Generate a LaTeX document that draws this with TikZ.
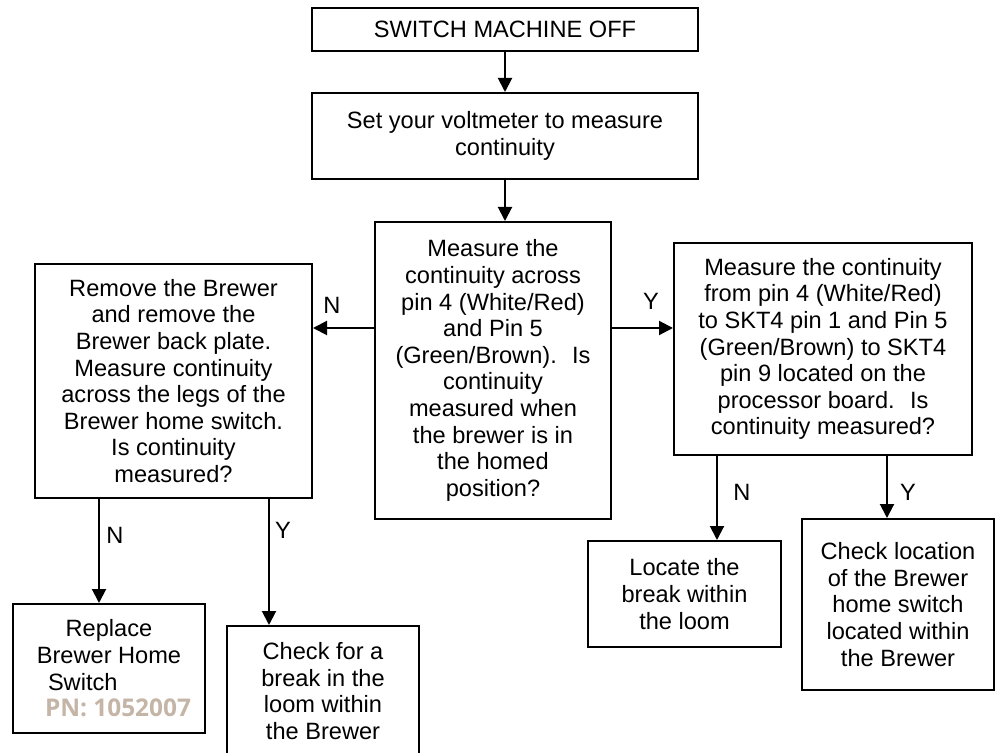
\documentclass[tikz,border=0pt]{standalone}
\usepackage{fontspec}
\setmainfont{Liberation Sans}
\newfontfamily\pnfont{Open Sans}
\usetikzlibrary{arrows.meta}
\definecolor{pntan}{RGB}{196,181,166}

\begin{document}
\begin{tikzpicture}[x=0.5pt,y=-0.5pt,line width=1pt,->,>={Triangle[length=7pt,width=7pt]}]
    \tikzstyle{stepbox}=[draw,-,align=center,inner sep=0pt,font=\fontsize{11.8}{13.3}\selectfont]
    \tikzstyle{answer}=[font=\fontsize{11.8}{13.3}\selectfont]
    \useasboundingbox (0,0) rectangle (995,753);

    % Draw the steps down the middle
    \node[stepbox, minimum width=193pt, minimum height=21.5pt] (off) at (505,29.5) {SWITCH MACHINE OFF};
    \node[stepbox, minimum width=193pt, minimum height=43pt] (volt) at (505,136) {Set your voltmeter to measure\\continuity};
    \node[stepbox, minimum width=118pt, minimum height=148.5pt] (cont) at (493,370.5)
        {Measure the\\continuity across\\pin 4 (White/Red)\\and Pin 5\\(Green/Brown).~ Is\\continuity\\measured when\\the brewer is in\\the homed\\position?};

    % Draw the two checks
    \node[stepbox, minimum width=138.5pt, minimum height=117pt] (brewer) at (173.5,381)
        {Remove the Brewer\\and remove the\\Brewer back plate.\\Measure continuity\\across the legs of the\\Brewer home switch.\\Is continuity\\measured?};
    \node[stepbox, minimum width=149pt, minimum height=106pt] (skt) at (823,349)
        {Measure the continuity\\from pin 4 (White/Red)\\to SKT4 pin 1 and Pin 5\\(Green/Brown) to SKT4\\pin 9 located on the\\processor board.~ Is\\continuity measured?};

    % Draw the end steps
    \node[stepbox, minimum width=96pt, minimum height=64.5pt] (replace) at (109,668.5)
        {Replace\\Brewer Home\\\makebox[61pt][l]{Switch}\\\makebox[64pt][l]{\pnfont\bfseries\fontsize{12.2}{13.3}\selectfont\color{pntan}PN: 1052007}};
    \node[stepbox, minimum width=96pt, minimum height=65pt] (loomchk) at (323,691)
        {Check for a\\break in the\\loom within\\the Brewer};
    \node[stepbox, minimum width=96.5pt, minimum height=53pt] (locate) at (684.5,594)
        {Locate the\\break within\\the loom};
    \node[stepbox, minimum width=96pt, minimum height=85.5pt] (homeloc) at (898,604.5)
        {Check location\\of the Brewer\\home switch\\located within\\the Brewer};

    % Connect the middle steps
    \draw (off) -- (volt);
    \draw (volt.south) -- (volt.south |- cont.north);

    % Split left and right
    \coordinate (nsplit) at ([yshift=21.25pt]cont.west);
    \coordinate (ysplit) at ([yshift=21.25pt]cont.east);
    \draw (nsplit) -- (nsplit -| brewer.east);
    \draw (ysplit) -- (ysplit -| skt.west);

    % Connect the checks with the end steps
    \coordinate (bn) at ([xshift=-37.25pt]brewer.south);
    \coordinate (by) at ([xshift=47.75pt]brewer.south);
    \coordinate (sn) at ([xshift=-53pt]skt.south);
    \coordinate (sy) at ([xshift=32pt]skt.south);
    \draw (bn) -- (bn |- replace.north);
    \draw (by) -- (by |- loomchk.north);
    \draw (sn) -- (sn |- locate.north);
    \draw (sy) -- (sy |- homeloc.north);

    % Annotate the answers
    \foreach \ans/\where in {N/{(332,305)}, Y/{(651,301)}, N/{(115,535)}, Y/{(283,530)}, N/{(742,492)}, Y/{(908,492)}}
        \node[answer] at \where {\ans};
\end{tikzpicture}
\end{document}
